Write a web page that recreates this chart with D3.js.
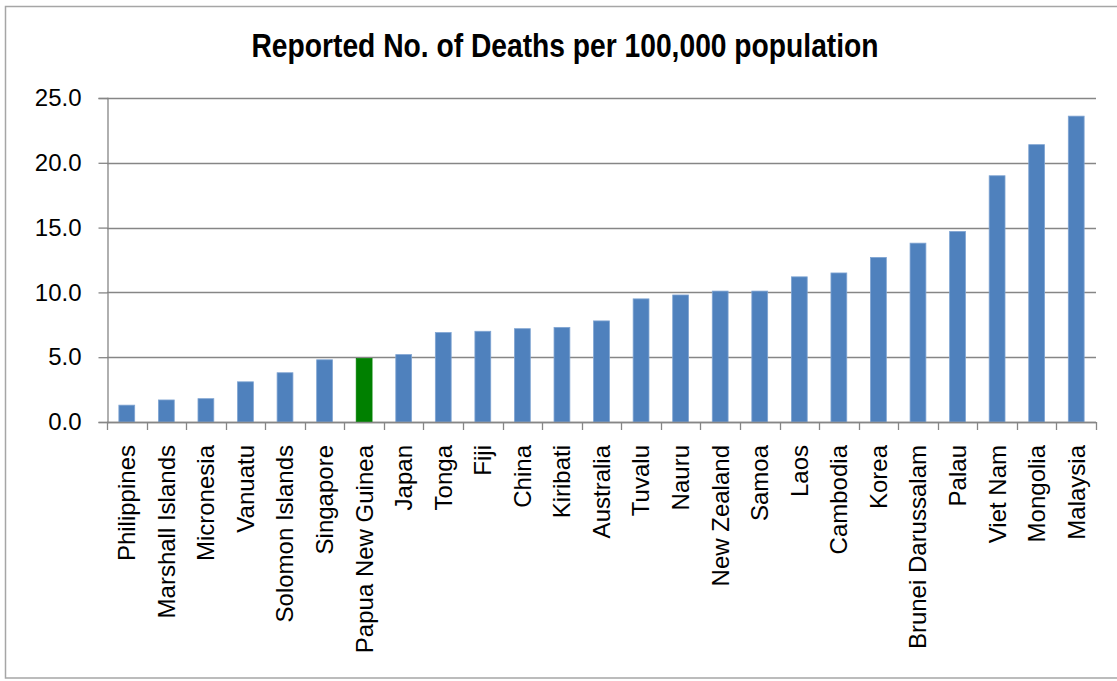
<!DOCTYPE html>
<html>
<head>
<meta charset="utf-8">
<script src="https://cdn.jsdelivr.net/npm/d3@7"></script>
<style>
  body { margin: 0; background: #fff; }
  svg { display: block; }
</style>
</head>
<body>
<svg id="chart" width="1117" height="681"></svg>
<script>
const countries = [
  "Philippines", "Marshall Islands", "Micronesia", "Vanuatu", "Solomon Islands",
  "Singapore", "Papua New Guinea", "Japan", "Tonga", "Fiji", "China", "Kiribati",
  "Australia", "Tuvalu", "Nauru", "New Zealand", "Samoa", "Laos", "Cambodia",
  "Korea", "Brunei Darussalam", "Palau", "Viet Nam", "Mongolia", "Malaysia"
];
const deaths = [
  1.3, 1.7, 1.8, 3.1, 3.8, 4.8, 4.9, 5.2, 6.9, 7.0, 7.2, 7.3,
  7.8, 9.5, 9.8, 10.1, 10.1, 11.2, 11.5, 12.7, 13.8, 14.7, 19.0, 21.4, 23.6
];
const highlight = "Papua New Guinea";
const yTicks = [0, 5, 10, 15, 20, 25];
const title = "Reported No. of Deaths per 100,000 population";

const svg = d3.select("#chart");
const plotLeft = 107, plotRight = 1096, plotTop = 98, plotBottom = 422;
const gridColor = "#868686";

// outer chart frame (right edge falls off the picture)
svg.append("rect")
  .attr("x", 5.5).attr("y", 6.5).attr("width", 1130).attr("height", 671.5)
  .attr("fill", "none").attr("stroke", "#a6a6a6").attr("stroke-width", 1.5);

// no narrow face installed, so squeeze the bold face horizontally
svg.append("text")
  .attr("transform", "translate(565,57) scale(0.83,1)")
  .attr("text-anchor", "middle")
  .attr("font-family", "'Liberation Sans Narrow', 'Arial Narrow', 'Liberation Sans', sans-serif")
  .attr("font-weight", "bold").attr("font-size", 34)
  .attr("fill", "#000")
  .text(title);

const x = d3.scaleBand().domain(countries).range([plotLeft, plotRight])
  .paddingInner(0.6).paddingOuter(0.3);
const y = d3.scaleLinear().domain([0, 25]).range([plotBottom, plotTop]);

// horizontal gridlines
svg.append("g").selectAll("line").data(yTicks).join("line")
  .attr("x1", plotLeft).attr("x2", plotRight)
  .attr("y1", d => Math.round(y(d)) + 0.5).attr("y2", d => Math.round(y(d)) + 0.5)
  .attr("stroke", gridColor).attr("stroke-width", 1.3);

// y axis
const yAxis = svg.append("g")
  .attr("transform", `translate(${plotLeft + 0.5},0)`)
  .call(d3.axisLeft(y).tickValues(yTicks).tickSize(9).tickPadding(17)
    .tickFormat(d3.format(".1f")));
yAxis.select(".domain").attr("stroke", gridColor).attr("stroke-width", 1.3);
yAxis.selectAll(".tick line").attr("stroke", gridColor).attr("stroke-width", 1.3);
yAxis.selectAll(".tick text")
  .attr("font-family", "'Liberation Sans', Arial, sans-serif")
  .attr("font-size", 24).attr("fill", "#000");

// bars
svg.append("g").selectAll("rect").data(countries).join("rect")
  .attr("x", d => x(d))
  .attr("y", (d, i) => y(deaths[i]))
  .attr("width", x.bandwidth())
  .attr("height", (d, i) => y(0) - y(deaths[i]))
  .attr("fill", d => d === highlight ? "#008000" : "#4f81bd")
  .attr("stroke", d => d === highlight ? "#008000" : "#7fa4d2")
  .attr("stroke-width", 0.8);

// x axis line and category boundary ticks
const step = x.step();
const edges = countries.map(d => x(d) - (step - x.bandwidth()) / 2).concat([plotRight]);
svg.append("line")
  .attr("x1", plotLeft).attr("x2", plotRight)
  .attr("y1", plotBottom + 0.5).attr("y2", plotBottom + 0.5)
  .attr("stroke", gridColor).attr("stroke-width", 1.5);
svg.append("g").selectAll("line").data(edges).join("line")
  .attr("x1", d => Math.round(d) + 0.5).attr("x2", d => Math.round(d) + 0.5)
  .attr("y1", plotBottom).attr("y2", plotBottom + 8)
  .attr("stroke", gridColor).attr("stroke-width", 1.3);

// rotated category labels
svg.append("g").selectAll("text").data(countries).join("text")
  .attr("transform", d => `translate(${x(d) + x.bandwidth() / 2},445) rotate(-90)`)
  .attr("text-anchor", "end")
  .attr("dy", "0.35em")
  .attr("font-family", "'Liberation Sans', Arial, sans-serif")
  .attr("font-size", 24).attr("fill", "#000")
  .text(d => d);
</script>
</body>
</html>
